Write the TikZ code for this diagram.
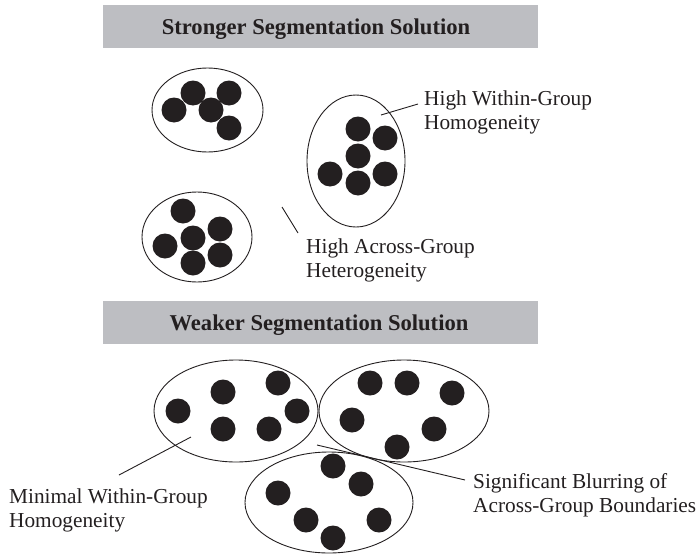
\documentclass[tikz,border=0pt]{standalone}
\usepackage{fontspec}
\setmainfont{Liberation Serif}
\usetikzlibrary{shapes.geometric}
\definecolor{ink}{RGB}{35,31,32}
\definecolor{barfill}{RGB}{189,190,194}
\begin{document}
\begin{tikzpicture}[x=1pt,y=-1pt,
  group/.style n args={2}{ellipse, draw=ink, line width=0.9pt, inner sep=0pt,
    minimum width=#1, minimum height=#2},
  dot/.style={circle, fill=ink, inner sep=0pt, minimum size=25pt},
  titlebar/.style={fill=barfill, inner sep=0pt, minimum width=435pt, minimum height=43pt},
  titletext/.style={anchor=base, text=ink, font=\fontsize{22.6}{26}\selectfont\bfseries, inner sep=0pt},
  label/.style={anchor=base west, text=ink, font=\fontsize{21.3}{24}\selectfont, inner sep=0pt},
  leader/.style={draw=ink, line width=0.9pt}]
\useasboundingbox (0,0) rectangle (698,554);

% headings
\node[titlebar] (barA) at (320.5,26.5) {};
\node[titletext] (titleA) at (316,34.5) {Stronger Segmentation Solution};
\node[titlebar] (barB) at (320.5,322.5) {};
\node[titletext] (titleB) at (319,330.5) {Weaker Segmentation Solution};

% strong solution: three compact, separated groups
\node[group={111pt}{84pt}] (g1) at (207.5,110) {};
\node[group={110pt}{90pt}] (g2) at (197,237) {};
\node[group={98pt}{132pt}] (g3) at (356,161) {};
\foreach \p [count=\i] in {(174,110),(193,93),(229,93),(211,110),(229,128)}
  \node[dot] (s1\i) at \p {};
\foreach \p [count=\i] in {(183,211),(220,229),(193,238),(165,246),(220,255),(193,263)}
  \node[dot] (s2\i) at \p {};
\foreach \p [count=\i] in {(358,129),(385,138),(358,156),(330,174),(358,183),(385,174)}
  \node[dot] (s3\i) at \p {};

% weak solution: three loose, overlapping groups
\node[group={164pt}{102pt}] (w1) at (236,411) {};
\node[group={170pt}{102pt}] (w2) at (404,411) {};
\node[group={168pt}{101pt}] (w3) at (329,502.5) {};
\foreach \p [count=\i] in {(178,411),(223,392),(278,383),(297,411),(223,429),(269,429)}
  \node[dot] (t1\i) at \p {};
\foreach \p [count=\i] in {(370,383),(407,383),(452,393),(352,420),(434,429),(397,447)}
  \node[dot] (t2\i) at \p {};
\foreach \p [count=\i] in {(333,466),(361,484),(278,493),(306,520),(379,520),(333,538)}
  \node[dot] (t3\i) at \p {};

% annotations
\node[label] (within1) at (424,105) {High Within-Group};
\node[label] (within2) at (424,129) {Homogeneity};
\node[label] (across1) at (306,253) {High Across-Group};
\node[label] (across2) at (306,277) {Heterogeneity};
\node[label] (minimal1) at (9,503) {Minimal Within-Group};
\node[label] (minimal2) at (9,527) {Homogeneity};
\node[label] (blur1) at (473,488) {Significant Blurring of};
\node[label] (blur2) at (473,512) {Across-Group Boundaries};

% leader lines
\coordinate (withinIn) at (381,115);
\coordinate (withinOut) at (418,104);
\coordinate (acrossIn) at (282,207);
\coordinate (acrossOut) at (298,233);
\coordinate (minimalIn) at (191,437);
\coordinate (minimalOut) at (119,475);
\coordinate (blurIn) at (317,445);
\coordinate (blurOut) at (465,480);
\draw[leader] (withinIn) -- (withinOut);
\draw[leader] (acrossIn) -- (acrossOut);
\draw[leader] (minimalIn) -- (minimalOut);
\draw[leader] (blurIn) -- (blurOut);
\end{tikzpicture}
\end{document}
